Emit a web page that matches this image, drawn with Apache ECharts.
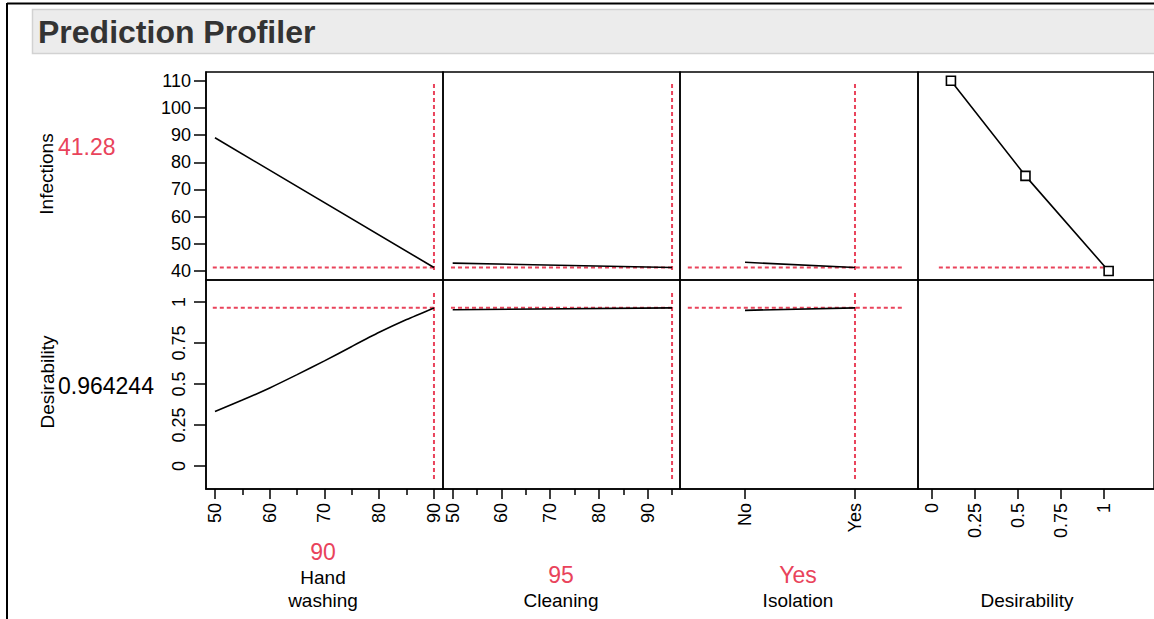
<!DOCTYPE html>
<html><head><meta charset="utf-8">
<script src="https://cdn.jsdelivr.net/npm/echarts@6/dist/echarts.min.js"></script>
<style>html,body{margin:0;padding:0;background:#fff}#c{width:1154px;height:619px}</style>
</head><body><div id="c"></div>
<script>
// ---------- data ----------
const titleText = 'Prediction Profiler';
const responseNames = ['Infections', 'Desirability'];
const responseCurrent = ['41.28', '0.964244'];
const factorNames = ['Hand\nwashing', 'Cleaning', 'Isolation', 'Desirability'];
const factorCurrent = ['90', '95', 'Yes'];
const factorCurrentX = [90, 95, 1];
const currentInfections = 41.28;
const currentDesirability = 0.964244;
const isolationLevels = ['No', 'Yes'];

const infTicks = [40, 50, 60, 70, 80, 90, 100, 110];
const desTicks = [0, 0.25, 0.5, 0.75, 1];
const handTicks = [50, 60, 70, 80, 90];
const handMinor = [55, 65, 75, 85];
const cleanTicks = [50, 60, 70, 80, 90];
const cleanMinor = [55, 65, 75, 85, 95];
const isoTicks = [0, 1];
const dTicks = [0, 0.25, 0.5, 0.75, 1];

const handX = [50, 90];
const handInf = [89.0, 41.28];
const handDesX = [50, 55, 60, 65, 70, 75, 80, 85, 90];
const handDes = [0.332, 0.402, 0.476, 0.557, 0.641, 0.729, 0.815, 0.893, 0.964];
const cleanX = [50, 95];
const cleanInf = [42.9, 41.28];
const cleanDes = [0.953, 0.964];
const isoX = [0, 1];
const isoInf = [43.2, 41.28];
const isoDes = [0.949, 0.964];
const desFnD = [0.112, 0.544, 1.026];
const desFnInf = [110, 75, 40];
const refHStart = [49.6, 49.65, -0.52, 0.042];
const refHEnd = [90, 95, 1.445, 1.02];
const refVInf = [108.8, 40.4];
const refVDes = [1.055, -0.08];

// ---------- layout ----------
const RED = '#e9435b';
const FONT = '"Liberation Sans", Arial, sans-serif';
const cols = [
  {left: 206, width: 237, min: 48.36, max: 91.65},
  {left: 443, width: 237, min: 48.01, max: 96.63},
  {left: 680, width: 238, min: -0.591, max: 1.573},
  {left: 918, width: 260, min: -0.0789, max: 1.289}
];
const rows = [
  {top: 72, height: 208, min: 36.69, max: 113.2},
  {top: 280, height: 209, min: -0.140, max: 1.134}
];
const xMajor = [handTicks, cleanTicks, isoTicks, dTicks];
const zip = (a, b) => a.map((v, i) => [v, b[i]]);

const grid = [], xAxis = [], yAxis = [], series = [];
rows.forEach((r, ri) => cols.forEach((c, ci) => {
  const gi = ri * 4 + ci;
  grid.push({left: c.left, width: c.width, top: r.top, height: r.height,
    show: true, borderColor: '#000', borderWidth: 1.5, backgroundColor: 'transparent'});
  const bottom = ri === 1;
  xAxis.push({
    type: 'value', gridIndex: gi, min: c.min, max: c.max, position: 'bottom', show: bottom,
    splitLine: {show: false},
    axisLine: {show: bottom, onZero: false, lineStyle: {color: '#000', width: 1.5}},
    axisTick: {show: bottom, length: 10, customValues: xMajor[ci], lineStyle: {color: '#000', width: 1.5}},
    axisLabel: {show: bottom, customValues: xMajor[ci], rotate: 90, margin: 14, color: '#000',
      fontSize: 18, fontFamily: FONT,
      formatter: v => ci === 2 ? isolationLevels[Math.round(v)] : String(v)}
  });
  const left = ci === 0;
  const yt = ri === 0 ? infTicks : desTicks;
  yAxis.push({
    type: 'value', gridIndex: gi, min: r.min, max: r.max, show: left,
    splitLine: {show: false},
    axisLine: {show: left, onZero: false, lineStyle: {color: '#000', width: 1.5}},
    axisTick: {show: left, length: 12, customValues: yt, lineStyle: {color: '#000', width: 1.5}},
    axisLabel: {show: left, customValues: yt, rotate: ri === 0 ? 0 : 90, margin: ri === 0 ? 15 : 18,
      color: '#000', fontSize: 18, fontFamily: FONT}
  });
}));
// minor ticks for continuous factors
[[4, handMinor], [5, cleanMinor]].forEach(([gi, vals]) => {
  const c = cols[gi - 4];
  xAxis.push({type: 'value', gridIndex: gi, min: c.min, max: c.max, position: 'bottom',
    splitLine: {show: false}, axisLine: {show: false, onZero: false}, axisLabel: {show: false},
    axisTick: {show: true, length: 6, customValues: vals, lineStyle: {color: '#000', width: 1.5}}});
});

function line(gi, data, extra) {
  series.push(Object.assign({type: 'line', xAxisIndex: gi, yAxisIndex: gi, data: data,
    symbol: 'none', silent: true, animation: false, clip: false,
    lineStyle: {color: '#000', width: 1.6}}, extra || {}));
}
const dash = {lineStyle: {color: RED, width: 2, type: [4, 3]}, z: 1};
// reference lines
for (let ci = 0; ci < 4; ci++) {
  line(ci, [[refHStart[ci], currentInfections], [refHEnd[ci], currentInfections]], dash);
  if (ci < 3) {
    line(ci, [[factorCurrentX[ci], refVInf[0]], [factorCurrentX[ci], refVInf[1]]], dash);
    line(4 + ci, [[refHStart[ci], currentDesirability], [refHEnd[ci], currentDesirability]], dash);
    line(4 + ci, [[factorCurrentX[ci], refVDes[0]], [factorCurrentX[ci], refVDes[1]]], dash);
  }
}
// profile traces
line(0, zip(handX, handInf), {z: 3});
line(1, zip(cleanX, cleanInf), {z: 3});
line(2, zip(isoX, isoInf), {z: 3});
line(3, zip(desFnD, desFnInf), {z: 3, symbol: 'rect', symbolSize: 9, showSymbol: true,
  itemStyle: {color: '#fff', borderColor: '#000', borderWidth: 1.6}});
line(4, zip(handDesX, handDes), {z: 3, smooth: 0.2});
line(5, zip(cleanX, cleanDes), {z: 3});
line(6, zip(isoX, isoDes), {z: 3});

// ---------- text & frame ----------
function txt(x, y, s, size, color, opts) {
  return Object.assign({type: 'text', x: x, y: y, silent: true,
    style: Object.assign({text: s, fontSize: size, fontFamily: FONT, fill: color,
      textAlign: 'center', textVerticalAlign: 'middle'}, (opts && opts.style) || {})},
    opts && opts.rotation ? {rotation: opts.rotation} : {});
}
const graphic = [
  {type: 'line', silent: true, shape: {x1: 7, y1: 3.5, x2: 1154, y2: 3.5}, style: {stroke: '#000', lineWidth: 2}},
  {type: 'line', silent: true, shape: {x1: 7, y1: 3, x2: 7, y2: 619}, style: {stroke: '#000', lineWidth: 2}},
  {type: 'rect', silent: true, shape: {x: 32.5, y: 9.5, width: 1130, height: 44},
    style: {fill: '#ececec', stroke: '#d2d2d2', lineWidth: 1.5}},
  txt(38, 32, titleText, 32, '#333', {style: {textAlign: 'left', fontWeight: 'bold'}}),
  txt(46, 174, responseNames[0], 19, '#000', {rotation: Math.PI / 2}),
  txt(58, 147, responseCurrent[0], 23, RED, {style: {textAlign: 'left'}}),
  txt(47, 382, responseNames[1], 19, '#000', {rotation: Math.PI / 2}),
  txt(58, 386, responseCurrent[1], 23, '#000', {style: {textAlign: 'left'}}),
  txt(323, 552, factorCurrent[0], 23, RED),
  txt(323, 589, factorNames[0], 19, '#000', {style: {lineHeight: 23}}),
  txt(561, 575, factorCurrent[1], 23, RED),
  txt(561, 600, factorNames[1], 19, '#000'),
  txt(798, 575, factorCurrent[2], 23, RED),
  txt(798, 600, factorNames[2], 19, '#000'),
  txt(1027, 600, factorNames[3], 19, '#000')
];

const chart = echarts.init(document.getElementById('c'), null, {renderer: 'svg'});
chart.setOption({animation: false, backgroundColor: '#fff', grid, xAxis, yAxis, series, graphic});
</script>
</body></html>
